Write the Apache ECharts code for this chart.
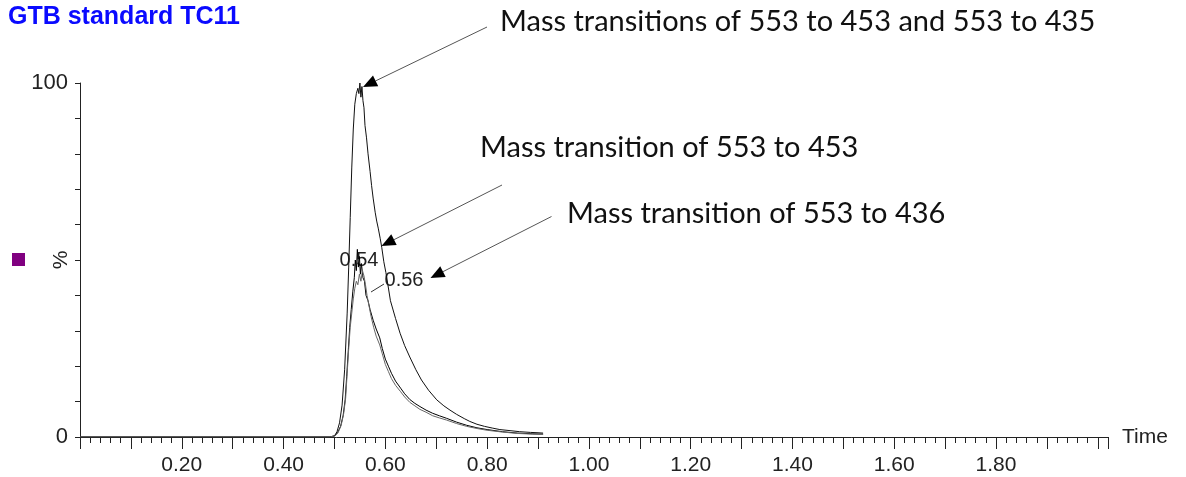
<!DOCTYPE html>
<html>
<head>
<meta charset="utf-8">
<script src="https://cdn.jsdelivr.net/npm/echarts@6/dist/echarts.min.js"></script>
<style>
  html, body { margin: 0; padding: 0; background: #fff; }
  #chart { width: 1186px; height: 477px; }
</style>
</head>
<body>
<div id="chart"></div>
<script>
// combined trace (553>453 + 553>435), normalised to 100
const timeSum = [0, 0.49, 0.500, 0.505, 0.510, 0.515, 0.520, 0.525, 0.528, 0.531, 0.534, 0.537, 0.540, 0.543, 0.546, 0.548, 0.550, 0.552, 0.554, 0.556, 0.558, 0.560, 0.563, 0.566, 0.570, 0.573, 0.576, 0.580, 0.583, 0.586, 0.590, 0.593, 0.597, 0.601, 0.605, 0.610, 0.620, 0.629, 0.638, 0.648, 0.660, 0.671, 0.685, 0.701, 0.715, 0.727, 0.740, 0.755, 0.766, 0.780, 0.795, 0.811, 0.825, 0.845, 0.864, 0.885, 0.900, 0.910]
const valSum = [0, 0, 0.3, 1.5, 4, 9, 19, 35, 48, 62, 76, 87, 94, 97, 98.5, 97, 100, 96, 99, 95, 93, 88, 84.5, 80, 75, 71, 67.5, 63.5, 61, 59, 56, 53.5, 49.5, 46.5, 43, 38.5, 33.5, 29.3, 25.8, 22.6, 19, 16.1, 13.2, 10.5, 8.8, 7.6, 6.4, 5.2, 4.4, 3.6, 3, 2.5, 2.1, 1.8, 1.5, 1.3, 1.2, 1.1]

// single transition, apex 0.54
const timeB = [0, 0.49, 0.500, 0.506, 0.512, 0.517, 0.521, 0.524, 0.527, 0.530, 0.533, 0.536, 0.539, 0.541, 0.543, 0.545, 0.547, 0.549, 0.551, 0.553, 0.556, 0.559, 0.562, 0.566, 0.570, 0.576, 0.582, 0.589, 0.594, 0.600, 0.606, 0.612, 0.620, 0.630, 0.638, 0.648, 0.658, 0.668, 0.680, 0.693, 0.706, 0.720, 0.740, 0.760, 0.780, 0.800, 0.830, 0.860, 0.890, 0.910]
const valB = [0, 0, 0.3, 1.2, 3, 6, 10.5, 17, 24, 31, 36, 41, 45, 50, 47, 53, 48, 51, 46, 49, 45, 44, 40, 38.5, 36, 33, 30.5, 28, 25, 22, 20, 18, 15.8, 13.8, 12.2, 10.6, 9.5, 8.6, 7.6, 6.7, 6, 5.3, 4.2, 3.3, 2.6, 2.1, 1.5, 1.1, 0.9, 0.8]

// single transition, apex 0.56
const timeC = [0, 0.49, 0.501, 0.507, 0.513, 0.518, 0.522, 0.525, 0.528, 0.531, 0.534, 0.537, 0.540, 0.543, 0.546, 0.549, 0.552, 0.555, 0.558, 0.561, 0.564, 0.568, 0.572, 0.577, 0.582, 0.589, 0.594, 0.600, 0.606, 0.612, 0.620, 0.630, 0.638, 0.648, 0.658, 0.668, 0.680, 0.693, 0.706, 0.720, 0.740, 0.760, 0.780, 0.800, 0.830, 0.860, 0.890, 0.910]
const valC = [0, 0, 0.3, 1.2, 3.2, 6.5, 11, 18, 25, 31, 35, 39, 42, 44, 43, 46, 44, 47, 45.5, 43, 40, 37, 34, 31, 28.5, 26, 23.5, 20.5, 18.5, 16.5, 14.6, 12.8, 11.3, 9.8, 8.8, 7.8, 7, 6, 5.4, 4.8, 3.8, 3, 2.4, 1.9, 1.4, 1, 0.8, 0.7]

const xLabels = ['0.20', '0.40', '0.60', '0.80', '1.00', '1.20', '1.40', '1.60', '1.80']
const yLabels = ['0', '100']

function zip(xs, ys) {
  return xs.map((x, i) => [x, ys[i]])
}

// arrow: line + filled head, tip at (tx, ty)
function arrow(x1, y1, tx, ty) {
  const dx = tx - x1, dy = ty - y1
  const len = Math.sqrt(dx * dx + dy * dy)
  const ux = dx / len, uy = dy / len
  const hl = 14, hw = 6
  const bx = tx - ux * hl, by = ty - uy * hl
  return [
    {
      type: 'line',
      shape: { x1: x1, y1: y1, x2: bx, y2: by },
      style: { stroke: '#555', lineWidth: 1 }
    },
    {
      type: 'polygon',
      shape: { points: [[tx, ty], [bx - uy * hw, by + ux * hw], [bx + uy * hw, by - ux * hw]] },
      style: { fill: '#000' }
    }
  ]
}

function note(text, x, y) {
  return {
    type: 'text', x: x, y: y,
    style: { text: text, fontFamily: 'Lato', fontSize: 29, fill: '#111', verticalAlign: 'middle' }
  }
}

function peakLabel(text, x, y) {
  return {
    type: 'text', x: x, y: y,
    style: { text: text, fontFamily: 'Liberation Sans', fontSize: 20, fill: '#222', align: 'center', verticalAlign: 'middle' }
  }
}

const chart = echarts.init(document.getElementById('chart'))

const option = {
  animation: false,
  title: {
    text: 'GTB standard TC11',
    left: 3,
    top: 0,
    textStyle: { fontFamily: 'Liberation Sans', fontSize: 25, fontWeight: 'bold', color: '#0a0aff' }
  },
  grid: { left: 80, right: 78, top: 83, bottom: 40 },
  xAxis: {
    type: 'value',
    min: 0,
    max: 2.02,
    interval: 0.1,
    name: 'Time',
    nameLocation: 'end',
    nameGap: 14,
    nameTextStyle: { fontFamily: 'Liberation Sans', fontSize: 21, color: '#222' },
    splitLine: { show: false },
    axisLine: { lineStyle: { color: '#222', width: 1 } },
    axisTick: { length: 12, lineStyle: { color: '#222' } },
    minorTick: { show: true, splitNumber: 5, length: 6, lineStyle: { color: '#222' } },
    axisLabel: {
      margin: 18,
      fontFamily: 'Liberation Sans',
      fontSize: 21,
      color: '#222',
      formatter: v => {
        const s = v.toFixed(2)
        return xLabels.includes(s) ? s : ''
      }
    }
  },
  yAxis: {
    type: 'value',
    min: 0,
    max: 100,
    interval: 10,
    splitLine: { show: false },
    axisLine: { show: true, lineStyle: { color: '#222', width: 1 } },
    axisTick: { length: 5, lineStyle: { color: '#222' } },
    axisLabel: {
      margin: 12,
      fontFamily: 'Liberation Sans',
      fontSize: 22,
      color: '#222',
      formatter: v => yLabels.includes(String(v)) ? String(v) : ''
    }
  },
  series: [
    {
      name: '553 > 453 + 553 > 435',
      type: 'line',
      showSymbol: false,
      data: zip(timeSum, valSum),
      lineStyle: { color: '#111', width: 1 }
    },
    {
      name: '553 > 453',
      type: 'line',
      showSymbol: false,
      data: zip(timeB, valB),
      lineStyle: { color: '#000', width: 1 }
    },
    {
      name: '553 > 436',
      type: 'line',
      showSymbol: false,
      data: zip(timeC, valC),
      lineStyle: { color: '#666', width: 1 }
    }
  ],
  graphic: [
    { type: 'rect', shape: { x: 12, y: 253, width: 13, height: 13 }, style: { fill: '#800080' } },
    {
      type: 'text', x: 61, y: 260, rotation: Math.PI / 2,
      style: { text: '%', fontFamily: 'Liberation Sans', fontSize: 21, fill: '#222', align: 'center', verticalAlign: 'middle' }
    },
    note('Mass transitions of 553 to 453 and 553 to 435', 500, 22),
    note('Mass transition of 553 to 453', 480, 148),
    note('Mass transition of 553 to 436', 567, 214),
    peakLabel('0.54', 359, 260),
    peakLabel('0.56', 404, 280),
    { type: 'line', shape: { x1: 371, y1: 292, x2: 384, y2: 284 }, style: { stroke: '#333', lineWidth: 1 } }
  ]
    .concat(arrow(487, 27, 363, 87))
    .concat(arrow(502, 185, 381.5, 246))
    .concat(arrow(551.5, 216.5, 430.5, 278))
}

chart.setOption(option)
</script>
</body>
</html>
